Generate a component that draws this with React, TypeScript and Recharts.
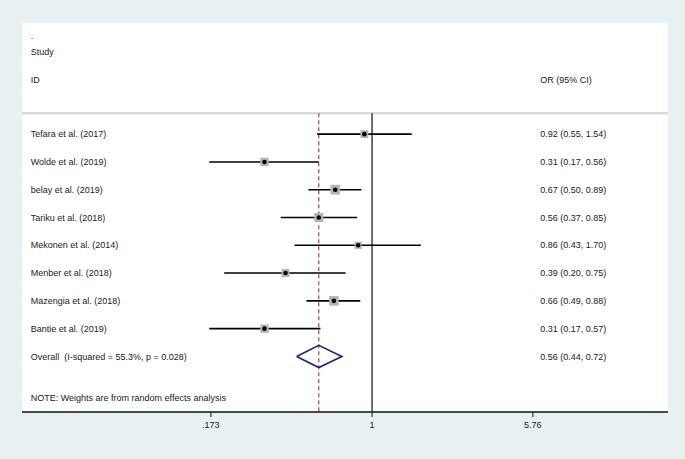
import React from 'react';
import { ComposedChart, Scatter, XAxis, YAxis, ReferenceLine } from 'recharts';

// study rows
const studies = [
  'Tefara et al. (2017)',
  'Wolde et al. (2019)',
  'belay et al. (2019)',
  'Tariku et al. (2018)',
  'Mekonen et al. (2014)',
  'Menber et al. (2018)',
  'Mazengia et al. (2018)',
  'Bantie et al. (2019)',
];
const or = [0.92, 0.31, 0.67, 0.56, 0.86, 0.39, 0.66, 0.31];
const lower = [0.55, 0.17, 0.5, 0.37, 0.43, 0.2, 0.49, 0.17];
const upper = [1.54, 0.56, 0.89, 0.85, 1.7, 0.75, 0.88, 0.57];
const weights = [11, 12, 16, 14, 9, 11, 16, 12];
const ciText = [
  '0.92 (0.55, 1.54)',
  '0.31 (0.17, 0.56)',
  '0.67 (0.50, 0.89)',
  '0.56 (0.37, 0.85)',
  '0.86 (0.43, 1.70)',
  '0.39 (0.20, 0.75)',
  '0.66 (0.49, 0.88)',
  '0.31 (0.17, 0.57)',
];

const overall = { or: 0.56, lower: 0.44, upper: 0.72 };
const overallLabel = 'Overall  (I-squared = 55.3%, p = 0.028)';
const overallText = '0.56 (0.44, 0.72)';
const noteText = 'NOTE: Weights are from random effects analysis';

const xTicks = [0.173, 1, 5.76];
const tickLabels = ['.173', '1', '5.76'];

// layout in axis units
const X_DOMAIN = [0.02213, 25.08];
const LABEL_X = 0.02433;
const OR_X = 6.24;
const FIRST_ROW = 4;
const HEADER_ROW = 3.25;

const rows = studies.map((name, i) => ({
  name,
  y: FIRST_ROW + i,
  x: or[i],
  lo: lower[i],
  hi: upper[i],
  w: weights[i],
  text: ciText[i],
}));
const overallRow = FIRST_ROW + studies.length;

const leftLabels = [
  { x: LABEL_X, y: 0.46, text: '.' },
  { x: LABEL_X, y: 1.05, text: 'Study' },
  { x: LABEL_X, y: 2.05, text: 'ID' },
  ...rows.map((r) => ({ x: LABEL_X, y: r.y, text: r.name })),
  { x: LABEL_X, y: overallRow, text: overallLabel },
  { x: LABEL_X, y: overallRow + 1.5, text: noteText },
];
const rightLabels = [
  { x: OR_X, y: 2.05, text: 'OR (95% CI)' },
  ...rows.map((r) => ({ x: OR_X, y: r.y, text: r.text })),
  { x: OR_X, y: overallRow, text: overallText },
];

const diamond = [
  { x: overall.lower, y: overallRow },
  { x: overall.or, y: overallRow - 0.4 },
  { x: overall.upper, y: overallRow },
  { x: overall.or, y: overallRow + 0.4 },
  { x: overall.lower, y: overallRow },
];

const font = '"Liberation Sans", Arial, sans-serif';

const TextShape = (props: any) => (
  <text
    x={props.cx}
    y={props.cy}
    dy="0.35em"
    fontSize={9}
    fontFamily={font}
    fill="#1a1a1a"
    style={{ whiteSpace: 'pre' }}
  >
    {props.payload.text}
  </text>
);

const MarkShape = (props: any) => {
  const s = Math.sqrt(props.payload.w) * 2.4;
  return (
    <g>
      <rect x={props.cx - s / 2} y={props.cy - s / 2} width={s} height={s} fill="#b4b4b4" />
      <circle cx={props.cx} cy={props.cy} r={2.3} fill="#000" />
    </g>
  );
};

const Empty = () => <g />;

export default function App() {
  return (
    <div style={{ position: 'absolute', left: 0, top: 0, width: 685, height: 459, background: '#e8f1f2' }}>
      <div style={{ position: 'absolute', left: 22, top: 23, width: 646, height: 389, background: '#fff' }} />
      <div style={{ position: 'absolute', left: 0, top: 0 }}>
        <ComposedChart width={685} height={459} margin={{ top: 23, right: 17, left: 22, bottom: 0 }}>
          <XAxis
            dataKey="x"
            type="number"
            scale="log"
            domain={X_DOMAIN}
            allowDataOverflow
            ticks={xTicks}
            tickFormatter={(v: number) => tickLabels[xTicks.indexOf(v)] ?? String(v)}
            height={47}
            stroke="#000"
            axisLine={{ stroke: '#111', strokeWidth: 1.5 }}
            tickLine={{ stroke: '#333', strokeWidth: 1.2 }}
            tickSize={5}
            tickMargin={5}
            tick={{ fontSize: 9, fontFamily: font, fill: '#1a1a1a' }}
          />
          <YAxis dataKey="y" type="number" domain={[0, 14]} reversed hide />
          <ReferenceLine y={HEADER_ROW} stroke="#d2d2d2" strokeWidth={2} />
          <ReferenceLine
            segment={[{ x: 1, y: HEADER_ROW }, { x: 1, y: 14 }]}
            stroke="#222"
            strokeWidth={1.3}
          />
          <ReferenceLine
            segment={[{ x: overall.or, y: HEADER_ROW }, { x: overall.or, y: 14 }]}
            stroke="#a8454d"
            strokeWidth={1.2}
            strokeDasharray="4 3"
          />
          {rows.map((r) => (
            <Scatter
              key={r.name}
              data={[{ x: r.lo, y: r.y }, { x: r.hi, y: r.y }]}
              line={{ stroke: '#000', strokeWidth: 1.6 }}
              shape={Empty}
              isAnimationActive={false}
            />
          ))}
          <Scatter data={rows} shape={MarkShape} isAnimationActive={false} />
          <Scatter
            data={diamond}
            line={{ stroke: '#1c2379', strokeWidth: 1.6 }}
            shape={Empty}
            isAnimationActive={false}
          />
          <Scatter data={leftLabels} shape={TextShape} isAnimationActive={false} />
          <Scatter data={rightLabels} shape={TextShape} isAnimationActive={false} />
        </ComposedChart>
      </div>
    </div>
  );
}
